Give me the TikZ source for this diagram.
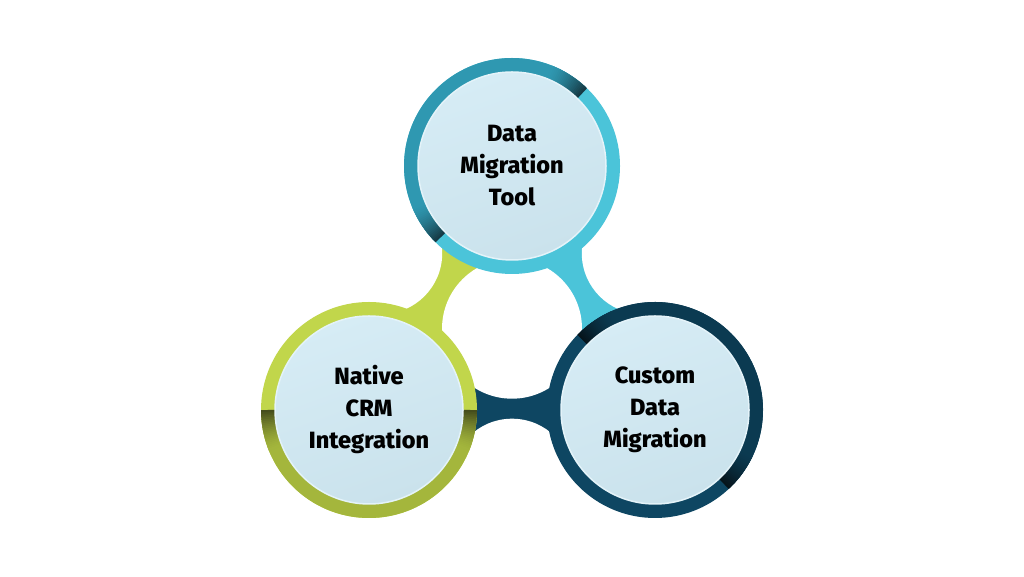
\documentclass[tikz,border=0pt]{standalone}
\usepackage{fontspec}
\setmainfont{Fira Sans}[BoldFont={Fira Sans ExtraBold}]
\usetikzlibrary{calc}
\definecolor{cyanB}{HTML}{4BC4D9}
\definecolor{cyanD}{HTML}{2F98B1}
\definecolor{cyanS}{HTML}{163A45}
\definecolor{limeB}{HTML}{C1D64B}
\definecolor{limeD}{HTML}{A4B63C}
\definecolor{limeS}{HTML}{454D1C}
\definecolor{navyB}{HTML}{0E4662}
\definecolor{navyD}{HTML}{0B3A51}
\definecolor{navyS}{HTML}{06141B}
\definecolor{innerA}{HTML}{D6ECF5}
\definecolor{innerB}{HTML}{CAE2EC}
\definecolor{rimC}{HTML}{E4F3F9}
% ring: center, bright, dark, shadow, start, end
\newcommand\myring[6]{%
  \draw[line width=14pt, #2] (#1) circle (101);
  \draw[line width=14pt, #3] ([shift={(#5:101)}]#1) arc[start angle=#5, end angle=#6, radius=101];
  \foreach \k in {0,...,21} {
    \pgfmathsetmacro\p{100*(1-\k/22)^1.5}
    \draw[line width=14pt, color=#4!\p!#3] ([shift={(#5+\k:101)}]#1) arc[start angle=#5+\k, end angle=#5+\k+1.4, radius=101];
    \draw[line width=14pt, color=#4!\p!#3] ([shift={(#6-\k:101)}]#1) arc[start angle=#6-\k, end angle=#6-\k-1.4, radius=101];
  }
}
\begin{document}
\begin{tikzpicture}[x=1pt,y=1pt,
  disc/.style={circle, minimum size=188pt, inner sep=0pt, shading=axis,
    top color=innerA, bottom color=innerB, shading angle=20,
    draw=rimC, line width=1.5pt, align=center, text=black,
    font=\bfseries\fontsize{23.5}{32}\selectfont}]
\useasboundingbox (0,0) rectangle (1024,577);
\fill[white] (0,0) rectangle (1024,577);
\coordinate (T) at (512,411);
\coordinate (L) at (369,167);
\coordinate (R) at (655,167);
\coordinate (C) at (512,248.3);
\coordinate (Q1) at ($(C)+(150:151)$);
\coordinate (Q2) at ($(C)+(270:151)$);
\coordinate (Q3) at ($(C)+(30:151)$);
% connecting bands
\fill[limeB] (C) -- (T) -- (Q1) -- (L) -- cycle;
\fill[navyB] (C) -- (L) -- (Q2) -- (R) -- cycle;
\fill[cyanB] (C) -- (R) -- (Q3) -- (T) -- cycle;
\fill[white] (C) circle (70);
\fill[white] (Q1) circle (61);
\fill[white] (Q2) circle (61);
\fill[white] (Q3) circle (61);
% rings
\myring{T}{cyanB}{cyanD}{cyanS}{46}{225}
\myring{L}{limeB}{limeD}{limeS}{180}{360}
\myring{R}{navyB}{navyD}{navyS}{-47}{136}
% discs with labels
\node[disc] (top) at (T) {Data\\Migration\\Tool};
\node[disc] (left) at (L) {Native\\CRM\\Integration};
\node[disc] (right) at (R) {Custom\\Data\\Migration};
\end{tikzpicture}
\end{document}
